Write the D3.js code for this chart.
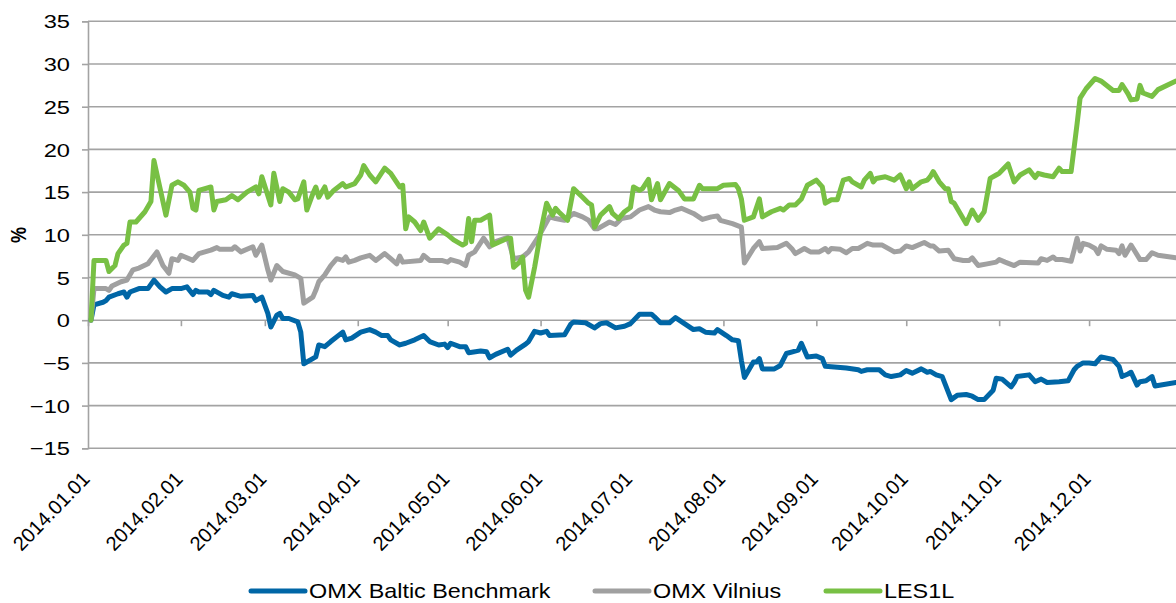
<!DOCTYPE html>
<html><head><meta charset="utf-8">
<script src="https://cdn.jsdelivr.net/npm/d3@7"></script>
<style>
body{margin:0;background:#fff;}
text{font-family:Arial,"Liberation Sans",sans-serif;fill:#000;}
</style>
</head><body>
<svg id="chart" width="1176" height="603"></svg>
<script>
// ---- data (day offsets from 2014.01.01, values in %) ----
const startLabel = "2014.01.01";
const endLabel = "2014.12.30";
const yTickValues = [-15,-10,-5,0,5,10,15,20,25,30,35];
const xTickLabels = ["2014.01.01","2014.02.01","2014.03.01","2014.04.01","2014.05.01","2014.06.01","2014.07.01","2014.08.01","2014.09.01","2014.10.01","2014.11.01","2014.12.01"];
const seriesNames = ["OMX Baltic Benchmark","OMX Vilnius","LES1L"];
const seriesColors = ["#0066a6","#a0a0a0","#78c044"];

const balticDays = [1,2,5,6,7,10,12,13,14,17,20,22,24,26,28,31,33,35,36,37,40,41,42,45,47,48,51,55,56,58,60,61,63,64,65,67,70,71,72,76,77,79,81,85,86,88,91,94,96,98,100,101,104,106,109,112,114,117,119,120,121,124,126,127,131,133,134,136,140,141,143,146,147,149,151,153,154,159,161,162,166,169,171,173,176,179,181,184,188,189,191,194,196,199,202,204,206,209,210,213,215,217,218,219,222,223,224,225,229,231,233,235,237,238,240,243,245,246,250,253,257,258,260,264,266,268,271,273,275,278,280,281,283,285,288,290,293,295,297,299,302,303,305,308,309,310,314,316,318,320,324,327,329,330,332,334,336,338,342,344,345,347,348,350,351,353,355,356,363];
const balticValues = [0,1.8,2.1,2.3,2.7,3.1,3.3,2.7,3.3,3.7,3.7,4.7,3.9,3.3,3.7,3.7,3.9,3.0,3.5,3.3,3.3,3.0,3.5,2.9,2.7,3.1,2.8,2.9,2.3,2.7,0.8,-0.8,0.6,0.8,0.2,0.2,-0.2,-1.4,-5.1,-4.3,-2.9,-3.1,-2.5,-1.4,-2.3,-2.1,-1.4,-1.1,-1.4,-1.8,-1.8,-2.3,-2.9,-2.7,-2.3,-1.8,-2.5,-2.9,-2.8,-3.2,-2.7,-3.1,-3.1,-3.8,-3.6,-3.7,-4.4,-4.0,-3.4,-4.1,-3.5,-2.8,-2.5,-1.3,-1.5,-1.3,-1.8,-1.7,-0.5,-0.2,-0.3,-0.9,-0.4,-0.3,-0.9,-0.7,-0.4,0.7,0.7,0.4,-0.3,-0.3,0.3,-0.4,-1.1,-1.0,-1.4,-1.5,-1.1,-1.8,-2.3,-2.4,-4.7,-6.7,-4.9,-4.9,-4.5,-5.7,-5.7,-5.3,-3.9,-3.7,-3.5,-2.7,-4.3,-4.2,-4.5,-5.4,-5.5,-5.6,-5.8,-6.0,-5.8,-5.8,-6.4,-6.6,-6.4,-5.9,-6.2,-5.7,-6.1,-6.0,-6.4,-6.6,-9.3,-8.8,-8.7,-8.9,-9.3,-9.3,-8.2,-6.8,-6.9,-7.8,-7.3,-6.6,-6.4,-7.2,-6.9,-7.3,-7.2,-7.1,-5.8,-5.4,-5.0,-5.0,-5.1,-4.3,-4.6,-5.4,-6.6,-6.3,-6.1,-7.6,-7.2,-7.1,-6.6,-7.7,-7.3];

const vilniusDays = [1,2,6,7,8,11,13,15,17,20,23,25,27,28,30,31,35,37,41,43,44,48,49,51,55,56,58,60,61,63,65,69,71,72,75,76,77,79,81,83,85,86,87,89,91,94,96,99,101,103,104,105,111,112,114,118,120,121,124,126,127,129,132,134,136,140,142,145,147,150,151,154,156,159,162,165,167,169,170,174,176,178,181,184,187,189,191,194,196,198,202,205,208,210,211,215,218,219,222,224,225,230,233,235,236,239,241,244,246,247,248,251,253,255,257,259,260,262,265,268,269,271,273,275,279,281,282,284,287,289,292,294,295,297,300,303,304,306,309,311,317,318,320,322,323,325,328,329,330,331,332,334,336,337,338,340,343,344,345,346,348,351,353,355,357,363];
const vilniusValues = [0,3.7,3.7,3.5,4.0,4.5,4.7,5.9,6.1,6.6,8.0,6.4,5.5,7.2,7.0,7.6,7.0,7.8,8.2,8.5,8.3,8.3,8.6,8.0,8.6,7.6,8.8,5.9,4.7,6.4,5.7,5.3,4.9,2.0,2.7,3.5,4.5,5.3,6.4,7.2,7.0,7.4,6.8,7.0,7.3,7.6,7.0,7.8,7.2,6.6,7.5,6.8,7.0,7.6,7.0,7.0,6.8,7.1,6.8,6.4,7.6,8.0,9.6,8.6,9.2,9.7,7.2,7.4,8.0,9.6,10.2,12.1,11.9,11.7,12.5,12.1,11.7,10.7,10.7,11.5,11.2,11.9,12.1,12.9,13.3,12.9,12.7,12.6,12.9,13.1,12.5,11.8,12.1,12.2,11.7,11.3,10.9,6.7,8.4,9.2,8.4,8.5,9.0,8.3,7.8,8.4,8.0,8.0,8.4,8.0,8.4,8.3,7.9,8.4,8.4,8.8,9.0,8.8,8.8,8.2,8.0,8.1,8.7,8.5,9.1,8.7,8.7,8.1,8.2,7.2,7.0,7.0,7.3,6.4,6.6,6.8,7.1,6.8,6.4,6.8,6.7,7.2,7.0,7.4,7.1,7.1,6.9,8.2,9.6,8.1,9.0,8.8,8.4,7.8,8.7,8.3,8.2,7.8,8.7,7.6,8.8,7.1,7.1,7.9,7.6,7.3];

const les1lDays = [1,2,6,7,9,10,12,13,14,16,19,21,22,26,28,30,32,34,35,36,37,41,42,43,46,48,50,53,56,57,58,61,62,64,65,67,69,70,72,73,75,76,77,79,80,82,85,86,89,91,92,94,96,99,101,104,105,106,107,109,111,112,114,117,120,122,125,126,127,128,129,131,134,135,140,141,142,144,145,146,147,149,150,151,153,155,156,157,160,162,165,167,168,169,171,174,175,177,179,181,182,184,185,187,188,190,191,194,197,199,202,204,205,210,212,216,217,218,219,222,224,225,228,231,232,234,236,238,240,243,245,246,248,250,252,254,255,258,259,261,262,263,266,269,271,273,274,275,278,280,281,282,284,286,287,288,289,291,293,295,297,299,301,303,304,307,309,311,314,316,317,319,322,324,325,328,330,331,333,336,338,342,344,345,347,348,350,351,352,355,357,363];
const les1lValues = [0,7.0,7.0,5.7,6.4,7.8,8.8,9.0,11.5,11.5,12.7,13.9,18.7,12.3,15.8,16.2,15.8,15.0,13.1,12.9,15.2,15.6,12.9,13.9,14.1,14.6,14.1,15.0,15.6,14.8,16.8,13.5,17.2,13.9,15.4,15.0,14.1,14.2,16.2,12.9,14.8,15.6,14.4,15.6,14.4,15.2,16.0,15.6,16.0,17.0,18.1,17.0,16.2,17.8,17.2,15.6,15.8,10.7,12.1,11.5,10.5,11.5,9.6,10.7,10.0,9.4,8.8,9.0,11.9,9.2,11.7,11.7,12.3,8.8,9.6,9.6,6.2,6.8,7.4,3.5,2.7,6.2,8.2,10.3,13.7,12.3,13.1,12.7,11.7,15.4,14.4,13.7,13.5,10.9,12.3,13.3,12.5,11.9,12.7,13.2,15.6,15.2,15.4,16.5,14.1,16.0,14.1,16.0,15.2,14.2,14.2,15.8,15.4,15.4,15.8,15.9,15.4,14.2,11.7,12.1,14.2,12.1,12.7,13.1,12.9,13.5,13.5,14.2,15.8,16.4,15.6,13.7,14.1,14.1,16.4,16.6,16.2,15.6,16.4,17.2,16.2,16.6,16.8,16.4,17.0,15.4,16.2,15.4,16.2,16.4,16.8,17.4,16.2,15.4,15.4,13.9,13.7,12.5,11.3,12.9,11.7,12.7,16.6,17.0,17.2,18.3,16.2,17.0,17.6,16.7,17.2,17.0,16.8,17.8,17.4,17.4,23.0,26.0,27.1,28.3,28.0,26.9,26.9,27.6,26.5,25.8,25.9,27.5,26.6,26.2,27.0,28.0];

// ---- chart ----
const parse = d3.timeParse("%Y.%m.%d");
const start = parse(startLabel);
const svg = d3.select("#chart");
const plotLeft = 88, plotRight = 1176, plotTop = 21.3, plotBottom = 448.3;
const x = d3.scaleTime().domain([start, parse(endLabel)]).range([plotLeft, plotRight]);
const y = d3.scaleLinear().domain([d3.min(yTickValues), d3.max(yTickValues)]).range([plotBottom, plotTop]);
const gridColor = "#a3a3a3";
const stretch = 1.28; // text in the reference is drawn horizontally widened

// gridlines
svg.append("g").selectAll("line").data(yTickValues).join("line")
  .attr("x1", plotLeft).attr("x2", plotRight)
  .attr("y1", d => y(d)).attr("y2", d => y(d))
  .attr("stroke", gridColor).attr("stroke-width", 1.6);

// y axis
const yAxis = svg.append("g").attr("transform", `translate(${plotLeft},0)`)
  .call(d3.axisLeft(y).tickValues(yTickValues).tickSize(6).tickFormat(d3.format("d")));
yAxis.select(".domain").attr("stroke", gridColor).attr("stroke-width", 1.6);
yAxis.selectAll(".tick line").attr("stroke", gridColor).attr("stroke-width", 1.6);
yAxis.selectAll(".tick text")
  .attr("x", 0).attr("dy", "0.36em")
  .attr("transform", `translate(-18,0) scale(${stretch},1)`)
  .attr("font-size", 18.5).attr("font-family", "Arial, 'Liberation Sans', sans-serif").attr("fill", "#000");

// x axis ticks on zero line
const tickDates = xTickLabels.map(parse);
const xAxis = svg.append("g").attr("transform", `translate(0,${y(0)})`)
  .call(d3.axisBottom(x).tickValues(tickDates).tickSize(6).tickFormat(""));
xAxis.select(".domain").remove();
xAxis.selectAll(".tick line").attr("stroke", gridColor).attr("stroke-width", 1.6);

// x labels at bottom, rotated
svg.append("g").selectAll("text").data(xTickLabels).join("text")
  .attr("transform", d => `translate(${x(parse(d)) + 3},${480}) rotate(-46)`)
  .attr("text-anchor", "end")
  .attr("font-size", 20)
  .text(d => d);

// y title
svg.append("text").attr("transform", "translate(26,235) rotate(-90) scale(1,1.2)")
  .attr("text-anchor", "middle").attr("font-size", 18).attr("font-weight", "bold").text("%");

// lines
const toSeries = (days, vals) => days.map((d, i) => ({date: d3.timeDay.offset(start, d), v: vals[i]}));
const series = [toSeries(balticDays, balticValues), toSeries(vilniusDays, vilniusValues), toSeries(les1lDays, les1lValues)];
const line = d3.line().x(d => x(d.date)).y(d => y(d.v));
svg.append("g").selectAll("path").data(series).join("path")
  .attr("d", line).attr("fill", "none")
  .attr("stroke", (d, i) => seriesColors[i])
  .attr("stroke-width", 5).attr("stroke-linejoin", "round").attr("stroke-linecap", "round");

// legend
const legendX = [251, 595, 826];
const lg = svg.append("g").selectAll("g").data(seriesNames).join("g")
  .attr("transform", (d, i) => `translate(${legendX[i]},591)`);
lg.append("line").attr("x1", 0).attr("x2", 54).attr("y1", 0).attr("y2", 0)
  .attr("stroke", (d, i) => seriesColors[i]).attr("stroke-width", 5).attr("stroke-linecap", "round");
lg.append("text").attr("transform", `translate(58,7) scale(${1.14},1)`).attr("font-size", 20.5).text(d => d);
</script>
</body></html>
